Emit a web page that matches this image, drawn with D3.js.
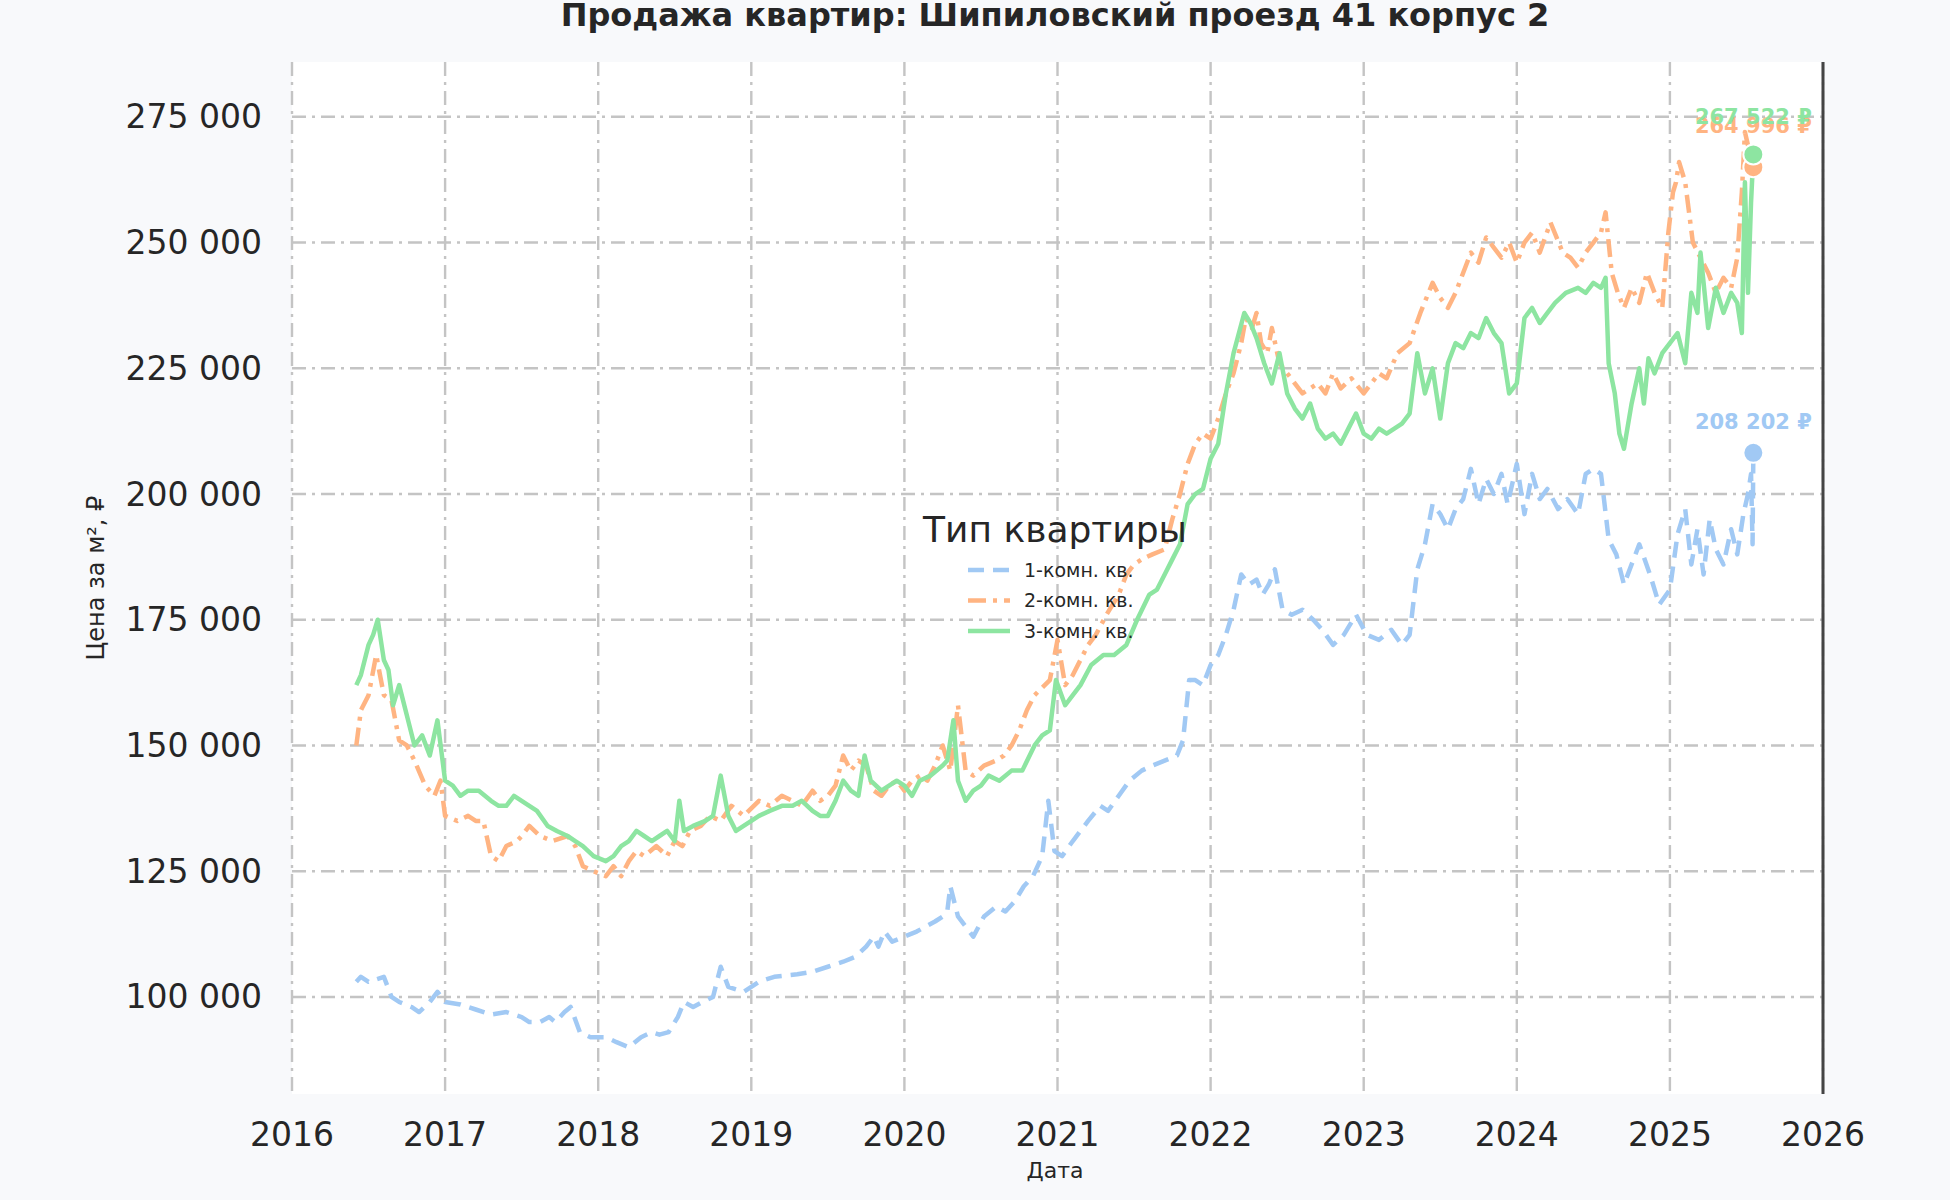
<!DOCTYPE html>
<html><head><meta charset="utf-8">
<script src="https://cdn.jsdelivr.net/npm/d3@7"></script>
<style>body{margin:0;background:#f8f9fb;font-family:"DejaVu Sans",sans-serif}</style>
</head><body><svg id="chart" width="1950" height="1200"></svg>
<script>
// [decimal year, price in thousands rub]
var oneRoom = [[2016.42,103],[2016.45,104],[2016.5,103],[2016.55,103.5],[2016.6,104],[2016.65,100],[2016.7,99],[2016.78,98],[2016.83,97],[2016.9,99],[2016.95,101],[2017.0,99],[2017.1,98.5],[2017.2,97.5],[2017.3,96.5],[2017.4,97],[2017.5,96],[2017.55,95],[2017.62,95],[2017.68,96],[2017.72,95],[2017.78,97],[2017.82,98],[2017.88,93],[2017.95,92],[2018.05,92],[2018.12,91],[2018.2,90],[2018.28,92],[2018.35,93],[2018.4,92.5],[2018.46,93],[2018.52,96],[2018.56,99],[2018.62,98],[2018.68,99],[2018.75,100],[2018.8,106],[2018.85,102],[2018.95,101],[2019.05,103],[2019.15,104],[2019.3,104.5],[2019.4,105],[2019.5,106],[2019.6,107],[2019.68,108],[2019.75,110],[2019.8,112],[2019.83,110],[2019.87,113],[2019.92,111],[2020.0,112],[2020.08,113],[2020.14,114],[2020.2,115],[2020.25,116],[2020.28,117],[2020.3,122],[2020.35,116],[2020.4,114],[2020.45,112],[2020.52,116],[2020.6,118],[2020.66,117],[2020.72,119],[2020.78,122],[2020.84,124],[2020.9,128],[2020.94,139],[2020.98,129],[2021.03,128],[2021.1,131],[2021.15,133],[2021.2,135],[2021.28,138],[2021.33,137],[2021.4,140],[2021.47,143],[2021.55,145],[2021.62,146],[2021.7,147],[2021.78,148],[2021.82,151],[2021.86,163],[2021.9,163],[2021.95,162],[2022.0,166],[2022.05,168],[2022.1,172],[2022.15,177],[2022.2,184],[2022.25,182],[2022.3,183],[2022.34,180],[2022.38,182],[2022.42,185],[2022.47,177],[2022.53,176],[2022.6,177],[2022.67,175],[2022.73,173],[2022.8,170],[2022.87,172],[2022.95,176],[2023.02,172],[2023.1,171],[2023.18,173],[2023.25,170],[2023.3,172],[2023.35,185],[2023.4,190],[2023.45,198],[2023.5,196],[2023.55,193],[2023.6,197],[2023.65,199],[2023.7,205],[2023.75,198],[2023.8,203],[2023.85,200],[2023.9,204],[2023.94,198],[2023.97,202],[2024.0,206],[2024.05,196],[2024.1,204],[2024.15,199],[2024.2,201],[2024.27,197],[2024.33,199],[2024.4,196],[2024.45,204],[2024.5,205],[2024.55,204],[2024.6,191],[2024.65,188],[2024.7,182],[2024.75,186],[2024.8,190],[2024.87,184],[2024.93,178],[2025.0,181],[2025.05,192],[2025.1,197],[2025.14,186],[2025.18,193],[2025.22,184],[2025.26,195],[2025.3,189],[2025.35,186],[2025.4,193],[2025.44,188],[2025.48,196],[2025.51,200],[2025.53,204],[2025.54,190],[2025.545,208.202]];
var twoRoom = [[2016.42,150],[2016.45,157],[2016.5,160],[2016.55,168],[2016.6,160],[2016.65,159],[2016.7,151],[2016.75,150],[2016.8,147],[2016.87,142],[2016.93,140],[2016.97,143],[2017.0,136],[2017.08,135],[2017.15,136],[2017.2,135],[2017.25,135],[2017.3,128],[2017.35,127],[2017.4,130],[2017.47,131],[2017.5,132],[2017.55,134],[2017.62,132],[2017.7,131],[2017.8,132],[2017.85,130],[2017.9,126],[2017.97,125],[2018.05,124],[2018.1,126],[2018.15,124],[2018.2,127],[2018.25,129],[2018.3,128],[2018.38,130],[2018.45,128],[2018.5,131],[2018.55,130],[2018.6,133],[2018.67,134],[2018.73,136],[2018.8,135],[2018.87,138],[2018.95,136],[2019.05,139],[2019.12,138],[2019.2,140],[2019.27,139],[2019.33,138],[2019.4,141],[2019.45,139],[2019.5,140],[2019.55,142],[2019.6,148],[2019.65,145],[2019.7,147],[2019.75,146],[2019.8,141],[2019.85,140],[2019.9,142],[2019.95,143],[2020.0,141],[2020.05,143],[2020.1,144],[2020.15,143],[2020.2,146],[2020.25,150],[2020.3,145],[2020.35,158],[2020.4,145],[2020.45,144],[2020.52,146],[2020.6,147],[2020.65,148],[2020.7,150],[2020.75,153],[2020.8,157],[2020.85,160],[2020.95,163],[2021.0,171],[2021.05,162],[2021.1,164],[2021.15,167],[2021.2,170],[2021.25,172],[2021.32,176],[2021.4,180],[2021.45,184],[2021.5,186],[2021.55,187],[2021.62,188],[2021.7,189],[2021.75,195],[2021.8,200],[2021.85,206],[2021.9,210],[2021.95,212],[2022.0,211],[2022.05,215],[2022.1,220],[2022.15,224],[2022.2,230],[2022.23,235],[2022.27,233],[2022.3,236],[2022.33,230],[2022.37,228],[2022.4,233],[2022.45,226],[2022.5,224],[2022.55,222],[2022.6,220],[2022.65,221],[2022.7,222],[2022.75,220],[2022.8,224],[2022.85,221],[2022.92,223],[2023.0,220],[2023.05,222],[2023.1,224],[2023.15,223],[2023.22,228],[2023.3,230],[2023.37,236],[2023.45,242],[2023.5,239],[2023.55,237],[2023.6,240],[2023.65,244],[2023.7,248],[2023.75,246],[2023.8,251],[2023.85,249],[2023.9,247],[2023.95,250],[2024.0,246],[2024.05,250],[2024.1,252],[2024.15,248],[2024.22,254],[2024.3,248],[2024.35,247],[2024.4,245],[2024.45,248],[2024.5,250],[2024.55,252],[2024.58,256],[2024.62,244],[2024.66,240],[2024.7,237],[2024.75,241],[2024.8,238],[2024.85,244],[2024.9,240],[2024.95,237],[2024.99,252],[2025.02,260],[2025.04,262],[2025.06,266],[2025.1,262],[2025.15,250],[2025.2,247],[2025.25,244],[2025.3,240],[2025.35,243],[2025.4,241],[2025.44,247],[2025.47,260],[2025.49,272],[2025.52,268],[2025.535,264],[2025.545,264.996]];
var threeRoom = [[2016.42,162],[2016.45,164],[2016.5,170],[2016.53,172],[2016.56,175],[2016.6,167],[2016.63,165],[2016.66,158],[2016.7,162],[2016.75,156],[2016.8,150],[2016.85,152],[2016.9,148],[2016.95,155],[2017.0,143],[2017.05,142],[2017.1,140],[2017.15,141],[2017.22,141],[2017.3,139],[2017.35,138],[2017.4,138],[2017.45,140],[2017.5,139],[2017.55,138],[2017.6,137],[2017.67,134],[2017.73,133],[2017.8,132],[2017.85,131],[2017.9,130],[2017.97,128],[2018.05,127],[2018.1,128],[2018.15,130],[2018.2,131],[2018.25,133],[2018.3,132],[2018.35,131],[2018.4,132],[2018.45,133],[2018.5,131],[2018.53,139],[2018.56,133],[2018.62,134],[2018.7,135],[2018.75,136],[2018.8,144],[2018.85,136],[2018.9,133],[2018.95,134],[2019.0,135],[2019.05,136],[2019.12,137],[2019.2,138],[2019.27,138],[2019.33,139],[2019.4,137],[2019.45,136],[2019.5,136],[2019.55,139],[2019.6,143],[2019.65,141],[2019.7,140],[2019.74,148],[2019.78,143],[2019.85,141],[2019.9,142],[2019.95,143],[2020.0,142],[2020.05,140],[2020.1,143],[2020.17,144],[2020.25,146],[2020.28,147],[2020.32,155],[2020.35,143],[2020.4,139],[2020.45,141],[2020.5,142],[2020.55,144],[2020.62,143],[2020.7,145],[2020.77,145],[2020.85,150],[2020.9,152],[2020.95,153],[2020.99,163],[2021.05,158],[2021.1,160],[2021.15,162],[2021.22,166],[2021.3,168],[2021.37,168],[2021.45,170],[2021.52,175],[2021.6,180],[2021.65,181],[2021.7,184],[2021.75,187],[2021.8,190],[2021.85,198],[2021.9,200],[2021.95,201],[2022.0,207],[2022.05,210],[2022.1,220],[2022.15,228],[2022.22,236],[2022.26,234],[2022.3,231],[2022.35,226],[2022.4,222],[2022.45,228],[2022.5,220],[2022.55,217],[2022.6,215],[2022.65,218],[2022.7,213],[2022.75,211],[2022.8,212],[2022.85,210],[2022.9,213],[2022.95,216],[2023.0,212],[2023.05,211],[2023.1,213],[2023.15,212],[2023.2,213],[2023.25,214],[2023.3,216],[2023.35,228],[2023.4,220],[2023.45,225],[2023.5,215],[2023.55,226],[2023.6,230],[2023.65,229],[2023.7,232],[2023.75,231],[2023.8,235],[2023.85,232],[2023.9,230],[2023.95,220],[2024.0,222],[2024.05,235],[2024.1,237],[2024.15,234],[2024.2,236],[2024.25,238],[2024.32,240],[2024.4,241],[2024.45,240],[2024.5,242],[2024.55,241],[2024.58,243],[2024.6,226],[2024.64,220],[2024.67,212],[2024.7,209],[2024.75,218],[2024.8,225],[2024.83,218],[2024.86,227],[2024.9,224],[2024.95,228],[2025.0,230],[2025.05,232],[2025.1,226],[2025.14,240],[2025.18,236],[2025.2,248],[2025.25,233],[2025.3,241],[2025.35,236],[2025.4,240],[2025.44,238],[2025.47,232],[2025.49,262],[2025.51,240],[2025.53,258],[2025.545,267.522]];
var seriesNames = ["1-комн. кв.", "2-комн. кв.", "3-комн. кв."];
var seriesColors = ["#a1c9f4", "#ffb482", "#8de5a1"];
var seriesDash = ["16,9", "18,7,4,7", null];
var yTicks = [100000, 125000, 150000, 175000, 200000, 225000, 250000, 275000];
var xTicks = d3.range(2016, 2027);

var svg = d3.select("#chart");
var L = 292, R = 1823, T = 62, B = 1094;
var x = d3.scaleLinear().domain([2016, 2026]).range([L, R]);
var y = d3.scaleLinear().domain([80700, 285900]).range([B, T]);
var fmt = v => d3.format(",")(v).replace(/,/g, " ");

svg.append("rect").attr("x", L).attr("y", T).attr("width", R - L).attr("height", B - T).attr("fill", "#ffffff");

var grid = svg.append("g").attr("stroke", "#c4c4c4").attr("stroke-width", 2.4).attr("stroke-dasharray", "14,6,3,6");
grid.selectAll(".gy").data(yTicks).join("line").attr("x1", L).attr("x2", R).attr("y1", d => y(d)).attr("y2", d => y(d));
grid.selectAll(".gx").data(xTicks).join("line").attr("y1", T).attr("y2", B).attr("x1", d => x(d)).attr("x2", d => x(d));

svg.append("line").attr("x1", R).attr("x2", R).attr("y1", T).attr("y2", B).attr("stroke", "#444").attr("stroke-width", 3);

svg.selectAll(".yt").data(yTicks).join("text").attr("x", 262).attr("y", d => y(d)).attr("dy", "0.35em")
  .attr("text-anchor", "end").attr("font-size", 33).attr("fill", "#262626").text(fmt);
svg.selectAll(".xt").data(xTicks).join("text").attr("x", d => x(d)).attr("y", 1134).attr("dy", "0.35em")
  .attr("text-anchor", "middle").attr("font-size", 33).attr("fill", "#262626").text(d => d);

svg.append("text").attr("x", 1055).attr("y", 26).attr("text-anchor", "middle").attr("font-size", 32).attr("font-weight", "bold")
  .attr("fill", "#262626").text("Продажа квартир: Шипиловский проезд 41 корпус 2");
svg.append("text").attr("x", 1055).attr("y", 1178).attr("text-anchor", "middle").attr("font-size", 22).attr("fill", "#262626").text("Дата");
svg.append("text").attr("transform", "translate(104,578) rotate(-90)").attr("text-anchor", "middle").attr("font-size", 24)
  .attr("fill", "#262626").text("Цена за м², ₽");

var line = d3.line().x(d => x(d[0])).y(d => y(d[1] * 1000));
[oneRoom, twoRoom, threeRoom].forEach(function (data, i) {
  svg.append("path").datum(data).attr("d", line).attr("fill", "none").attr("stroke", seriesColors[i])
    .attr("stroke-width", 4.5).attr("stroke-linejoin", "round").attr("stroke-dasharray", seriesDash[i]);
});
[twoRoom, threeRoom, oneRoom].forEach(function (data) {
  var i = [oneRoom, twoRoom, threeRoom].indexOf(data);
  var last = data[data.length - 1];
  svg.append("circle").attr("cx", x(last[0])).attr("cy", y(last[1] * 1000)).attr("r", 10)
    .attr("fill", seriesColors[i]).attr("stroke", "#fff").attr("stroke-width", 2);
});
var lab = [[oneRoom, 429], [twoRoom, 133], [threeRoom, 124]];
lab.forEach(function (p, i) {
  var last = p[0][p[0].length - 1];
  svg.append("text").attr("x", x(last[0])).attr("y", p[1]).attr("text-anchor", "middle").attr("font-size", 21)
    .attr("font-weight", "bold").attr("fill", seriesColors[i]).text(fmt(Math.round(last[1] * 1000)) + " ₽");
});

var lg = svg.append("g");
lg.append("text").attr("x", 1055).attr("y", 542).attr("text-anchor", "middle").attr("font-size", 36).attr("fill", "#262626").text("Тип квартиры");
seriesNames.forEach(function (n, i) {
  var yy = 570 + i * 30.5;
  lg.append("line").attr("x1", 968).attr("x2", 1010).attr("y1", yy).attr("y2", yy).attr("stroke", seriesColors[i])
    .attr("stroke-width", 4.5).attr("stroke-dasharray", seriesDash[i]);
  lg.append("text").attr("x", 1024).attr("y", yy).attr("dy", "0.35em").attr("font-size", 19).attr("fill", "#262626").text(n);
});
</script></body></html>
